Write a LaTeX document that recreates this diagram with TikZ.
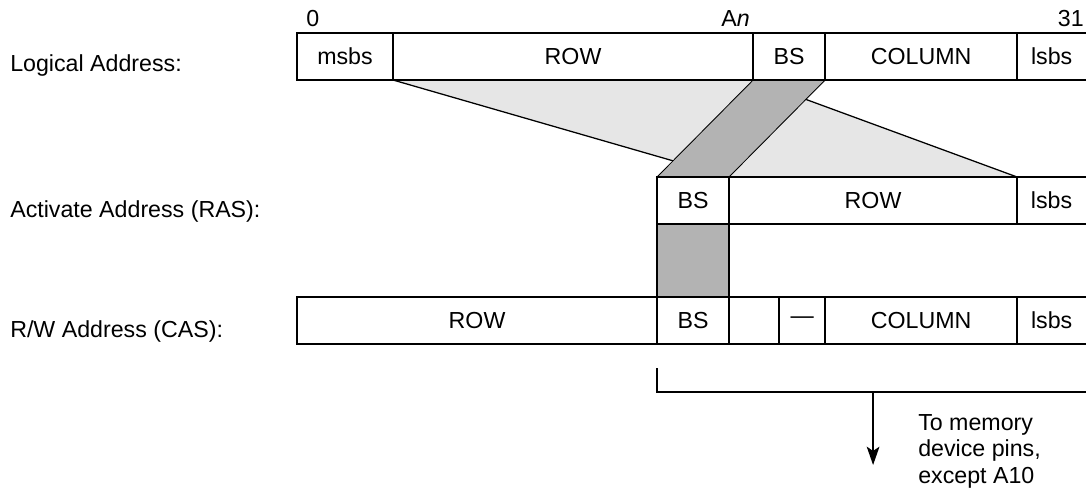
\documentclass[tikz,border=0pt]{standalone}
\usepackage{fontspec}
\setmainfont{Liberation Sans}
\usetikzlibrary{arrows.meta,positioning,calc,backgrounds}
\definecolor{bandlight}{HTML}{E6E6E6}
\definecolor{banddark}{HTML}{B3B3B3}

\begin{document}
\begin{tikzpicture}[
  x=0.025cm, y=-0.025cm,
  font=\fontsize{16.5}{16}\selectfont, >={Stealth[length=13pt,width=9pt,inset=3pt]},
  field/.style={draw, line width=1.3pt, minimum height=1.175cm, inner sep=0pt, outer sep=0pt},
  tail/.style={field, draw=none},
  rule/.style={line width=1.3pt},
  lbl/.style={inner sep=0pt, anchor=base west},
  idx/.style={inner sep=0pt},
  map/.style={line width=0.9pt},
  wire/.style={line width=1.3pt},
]
\useasboundingbox (0,0) rectangle (1086,491);

% Logical address
\node[lbl] (laddr) at (10,72) {Logical Address:};
\node[field, minimum width=2.4cm, anchor=north west] (lmsbs) at (297,33) {msbs};
\node[field, minimum width=9cm, right=0pt of lmsbs] (lrow) {ROW};
\node[field, minimum width=1.8cm, right=0pt of lrow] (lbs) {BS};
\node[field, minimum width=4.8cm, right=0pt of lbs] (lcol) {COLUMN};
\node[tail, minimum width=1.725cm, right=0pt of lcol] (llsbs) {lsbs};
\draw[rule] (llsbs.north west) -- ++(80,0);
\draw[rule] (llsbs.south west) -- ++(80,0);

% Bit numbers
\node[idx, anchor=base west] (bit0) at (306,27) {0};
\node[idx, anchor=base east] (bitn) at (750,27) {A\textit{n}};
\node[idx, anchor=base east] (bit31) at (1084,27) {31};

% Activate address (RAS)
\node[lbl] (raddr) at (10,218) {Activate Address (RAS):};
\node[field, minimum width=1.8cm, anchor=north west] (rbs) at (657,177) {BS};
\node[field, minimum width=7.2cm, right=0pt of rbs] (rrow) {ROW};
\node[tail, minimum width=1.725cm, right=0pt of rrow] (rlsbs) {lsbs};
\draw[rule] (rlsbs.north west) -- ++(80,0);
\draw[rule] (rlsbs.south west) -- ++(80,0);
\node[field, fill=banddark, minimum width=1.8cm, minimum height=1.825cm, below=0pt of rbs] (rgap) {};

% R/W address (CAS)
\node[lbl] (caddr) at (10,338) {R/W Address (CAS):};
\node[field, minimum width=9cm, anchor=north west] (crow) at (297,297) {ROW};
\node[field, minimum width=1.8cm, right=0pt of crow] (cbs) {BS};
\node[field, minimum width=1.25cm, right=0pt of cbs] (cfree) {};
\node[field, minimum width=1.15cm, right=0pt of cfree] (cdash) {---};
\node[field, minimum width=4.8cm, right=0pt of cdash] (ccol) {COLUMN};
\node[tail, minimum width=1.725cm, right=0pt of ccol] (clsbs) {lsbs};
\draw[rule] (clsbs.north west) -- ++(80,0);
\draw[rule] (clsbs.south west) -- ++(80,0);

% Mapping bands
\begin{scope}[on background layer]
  \fill[bandlight] (lrow.south west) -- (lrow.south east) -- (rrow.north east) -- (rrow.north west) -- cycle;
  \draw[map] (lrow.south west) -- (rrow.north west);
  \draw[map] (lrow.south east) -- (rrow.north east);
  \filldraw[fill=banddark, line width=0.6pt]
    (lbs.south west) -- (lbs.south east) -- (rbs.north east) -- (rbs.north west) -- cycle;
\end{scope}

% Pins bracket
\coordinate (pinl) at ($(cbs.south west)+(0,24)$);
\coordinate (pinc) at ($(cbs.south west)+(0,48)$);
\coordinate (pinr) at ($(pinc)+(440,0)$);
\coordinate (tap) at ($(pinc)+(216,0)$);
\coordinate (tapend) at ($(tap)+(0,73)$);
\draw[wire] (pinl) -- (pinc) -- (pinr);
\draw[wire, ->] (tap) -- (tapend);
\node[inner sep=0pt, anchor=north west, align=left, font=\fontsize{16.5}{19}\selectfont] (pins) at (918,414)
  {To memory\\device pins,\\except A10};

\end{tikzpicture}
\end{document}
